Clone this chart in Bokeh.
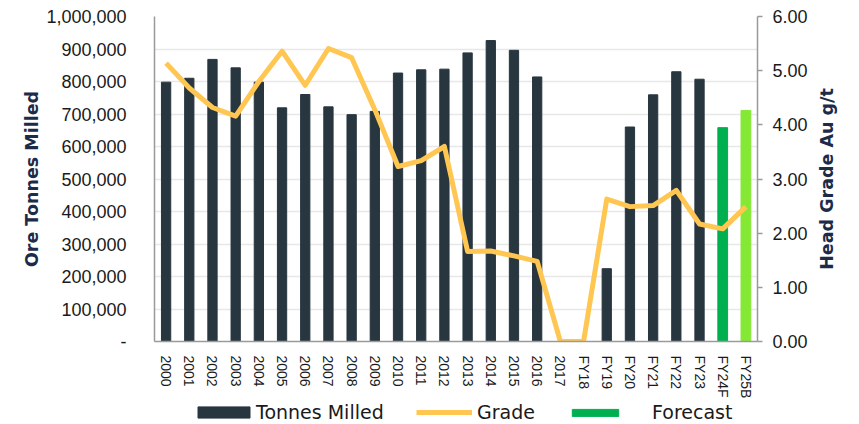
from bokeh.plotting import figure
from bokeh.layouts import column, row
from bokeh.models import (ColumnDataSource, FactorRange, Range1d, LinearAxis,
                          FixedTicker, Legend, LegendItem, Title)
from bokeh.embed import file_html
from bokeh.resources import INLINE

categories = ["2000", "2001", "2002", "2003", "2004", "2005", "2006", "2007", "2008",
              "2009", "2010", "2011", "2012", "2013", "2014", "2015", "2016", "2017",
              "FY18", "FY19", "FY20", "FY21", "FY22", "FY23", "FY24F", "FY25B"]
tonnes_milled = [798000, 810000, 868000, 842000, 798000, 719000, 760000, 722000, 698000,
                 708000, 826000, 836000, 838000, 888000, 926000, 896000, 814000, 0,
                 0, 224000, 660000, 759000, 830000, 807000, 658000, 711000]
grade = [5.14, 4.68, 4.32, 4.16, 4.80, 5.36, 4.73, 5.41, 5.24,
         4.28, 3.23, 3.34, 3.60, 1.66, 1.67, 1.58, 1.48, 0.0,
         0.0, 2.63, 2.49, 2.51, 2.79, 2.17, 2.08, 2.49]

left_ticks = [0, 100000, 200000, 300000, 400000, 500000, 600000, 700000, 800000, 900000, 1000000]
left_labels = ["-", "100,000", "200,000", "300,000", "400,000", "500,000", "600,000",
               "700,000", "800,000", "900,000", "1,000,000"]
right_ticks = [0, 1, 2, 3, 4, 5, 6]
right_labels = ["0.00", "1.00", "2.00", "3.00", "4.00", "5.00", "6.00"]
legend_labels = ["Tonnes Milled", "Grade", "Forecast"]
left_title = "Ore Tonnes Milled"
right_title = "Head Grade Au g/t"

n_actual = 24  # 2000 .. FY23 actuals; FY24F forecast; FY25B budget

DARK = "#27363f"
GOLD = "#ffc651"
GREEN = "#00b050"
LIGHT_GREEN = "#84e834"
NAVY = "#1c2b48"
AXIS_GREY = "#9a9a9a"
TICK_FONT = "Liberation Sans"
TITLE_FONT = "DejaVu Sans"

src_actual = ColumnDataSource(dict(x=categories[:n_actual], top=tonnes_milled[:n_actual]))
src_fc = ColumnDataSource(dict(x=categories[n_actual:n_actual + 1], top=tonnes_milled[n_actual:n_actual + 1]))
src_bud = ColumnDataSource(dict(x=categories[n_actual + 1:], top=tonnes_milled[n_actual + 1:]))
src_grade = ColumnDataSource(dict(x=categories, y=grade))

x_range = FactorRange(*categories)

p = figure(width=812, height=402, x_range=x_range,
           y_range=Range1d(left_ticks[0], left_ticks[-1]),
           output_backend="svg", toolbar_location=None,
           min_border_left=154, min_border_right=55, min_border_top=16, min_border_bottom=61)
p.extra_y_ranges = {"grade": Range1d(right_ticks[0], right_ticks[-1])}
p.outline_line_color = None

p.vbar(x="x", top="top", width=0.4, source=src_actual, color=DARK)
p.vbar(x="x", top="top", width=0.42, source=src_fc, color=GREEN)
p.vbar(x="x", top="top", width=0.42, source=src_bud, color=LIGHT_GREEN)
p.line(x="x", y="y", source=src_grade, y_range_name="grade",
       line_width=5, line_color=GOLD, line_join="round")

# grid
p.xgrid.grid_line_color = None
p.ygrid.ticker = FixedTicker(ticks=left_ticks)
p.ygrid.grid_line_color = "#e8e8e8"
p.ygrid.grid_line_width = 1.5

# x axis
xa = p.xaxis[0]
xa.major_label_orientation = "vertical"
xa.major_tick_line_color = None
xa.minor_tick_line_color = None
xa.axis_line_color = AXIS_GREY
xa.axis_line_width = 1.5
xa.major_label_text_font = TICK_FONT
xa.major_label_text_font_size = "14px"
xa.major_label_text_color = "#1a1a1a"
xa.major_label_standoff = 8
xa.axis_label_standoff = 0

# left axis
ya = p.yaxis[0]
ya.ticker = FixedTicker(ticks=left_ticks)
ya.major_label_overrides = {t: l for t, l in zip(left_ticks, left_labels)}
ya.major_tick_line_color = None
ya.minor_tick_line_color = None
ya.axis_line_color = AXIS_GREY
ya.axis_line_width = 1.5
ya.major_label_text_font = TICK_FONT
ya.major_label_text_font_size = "18px"
ya.major_label_text_color = "#1a1a1a"
ya.major_label_standoff = 22
ya.axis_label = left_title
ya.axis_label_text_font = TITLE_FONT
ya.axis_label_text_font_style = "bold"
ya.axis_label_text_font_size = "17.5px"
ya.axis_label_text_color = NAVY
ya.axis_label_standoff = 1

# right axis
ra = LinearAxis(y_range_name="grade", ticker=FixedTicker(ticks=right_ticks))
ra.major_label_overrides = {t: l for t, l in zip(right_ticks, right_labels)}
ra.major_tick_in = 0
ra.major_tick_out = 5
ra.major_tick_line_color = AXIS_GREY
ra.major_tick_line_width = 1.5
ra.minor_tick_line_color = None
ra.axis_line_color = AXIS_GREY
ra.axis_line_width = 1.5
ra.major_label_text_font = TICK_FONT
ra.major_label_text_font_size = "18px"
ra.major_label_text_color = "#1a1a1a"
ra.major_label_standoff = 10
ra.axis_label_standoff = 0
p.add_layout(ra, "right")

# legend strip below the chart (hidden renderers carry the legend glyph styles)
lf = figure(width=812, height=22, x_range=x_range, y_range=Range1d(-2, -1),
            output_backend="svg", toolbar_location=None,
            min_border_left=154, min_border_right=55, min_border_top=0, min_border_bottom=0)
lf.axis.visible = False
lf.grid.visible = False
lf.outline_line_color = None
d_act = lf.vbar(x="x", top="top", width=0.4, source=src_actual, color=DARK)
d_grade = lf.line(x="x", y="y", source=src_grade, line_width=5, line_color=GOLD)
d_fc = lf.vbar(x="x", top="top", width=0.42, source=src_fc, color=GREEN)
for r in (d_act, d_grade, d_fc):
    r.visible = False

def make_legend(label, renderer, x, gw, gh, standoff):
    lg = Legend(items=[LegendItem(label=label, renderers=[renderer])],
                location=(x, 1), orientation="horizontal",
                glyph_width=gw, glyph_height=gh, label_standoff=standoff,
                label_height=20, padding=0, margin=0, spacing=0,
                border_line_color=None, background_fill_alpha=0,
                inactive_fill_alpha=0,
                label_text_font="DejaVu Sans", label_text_font_size="19px",
                label_text_color="#1a1a1a")
    lf.add_layout(lg, "center")

make_legend(legend_labels[0], d_act, 37, 65, 14, 0)
make_legend(legend_labels[1], d_grade, 262, 56, 14, 5)
make_legend(legend_labels[2], d_fc, 412, 58, 9, 28)

# right-hand axis title (reads bottom to top)
tf = figure(width=47, height=424, x_range=Range1d(0, 1), y_range=Range1d(0, 1),
            output_backend="svg", toolbar_location=None,
            min_border_left=24, min_border_right=0, min_border_top=16, min_border_bottom=83)
tf.axis.visible = False
tf.grid.visible = False
tf.outline_line_color = None
tf.add_layout(Title(text=right_title, align="center", text_font=TITLE_FONT,
                    text_font_style="bold", text_font_size="17.5px",
                    text_color=NAVY, standoff=0, offset=0), "left")

layout = row(column(p, lf, spacing=0), tf, spacing=0)
open("out.html", "w").write(file_html(layout, INLINE))
